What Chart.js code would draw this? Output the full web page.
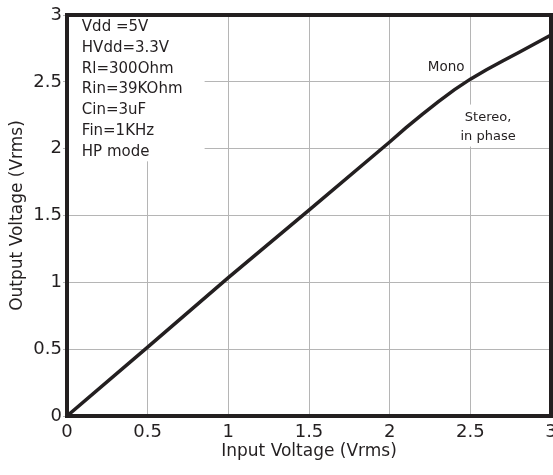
<!DOCTYPE html>
<html>
<head>
    <meta charset='utf-8'>
    <title>Output vs Input Voltage</title>
    <script src='https://cdn.jsdelivr.net/npm/chart.js@4.4.0/dist/chart.umd.min.js'></script>
    <style>
        body { margin: 0; background: #fff; }
        #wrap { width: 553px; height: 475px; }
    </style>
</head>
<body>
<div id="wrap"><canvas id="myChart" width="553" height="475"></canvas></div>
<script>
// values
const inputV  = [0, 0.5, 1, 1.5, 2, 2.1, 2.2, 2.3, 2.4, 2.5, 2.6, 2.7, 2.8, 2.9, 3];
const outputV = [0, 0.515, 1.035, 1.54, 2.05, 2.155, 2.255, 2.35, 2.44, 2.52, 2.59, 2.656, 2.72, 2.785, 2.85];

const xTicks = [0, 0.5, 1, 1.5, 2, 2.5, 3];
const yTicks = [0, 0.5, 1, 1.5, 2, 2.5, 3];

const conditions = ['Vdd =5V', 'HVdd=3.3V', 'Rl=300Ohm', 'Rin=39KOhm', 'Cin=3uF', 'Fin=1KHz', 'HP mode'];
const monoLabel = 'Mono';
const stereoLabel = ['Stereo,', 'in phase'];

const ink = '#231f20';
const gridGray = '#b5b5b5';
const font = 'DejaVu Sans';

// white boxes + text notes, drawn over the grid but under the curve
const notes = {
    id: 'notes',
    beforeDatasetsDraw(chart) {
        const ctx = chart.ctx;
        const x = chart.scales.x, y = chart.scales.y;
        ctx.save();
        ctx.fillStyle = '#fff';
        // condition block, upper left
        ctx.fillRect(x.getPixelForValue(0.01), y.getPixelForValue(2.99), 136, 145);
        // stereo block
        ctx.fillRect(x.getPixelForValue(2.4), y.getPixelForValue(2.33), 68, 42);

        ctx.fillStyle = ink;
        ctx.textBaseline = 'middle';
        ctx.textAlign = 'left';
        ctx.font = '15px "' + font + '"';
        const left = x.getPixelForValue(0.092);
        const top = y.getPixelForValue(2.91);
        conditions.forEach((t, i) => ctx.fillText(t, left, top + i * 20.8));

        ctx.textAlign = 'center';
        ctx.font = '13.5px "' + font + '"';
        ctx.fillText(monoLabel, x.getPixelForValue(2.35), y.getPixelForValue(2.61));
        ctx.font = '13px "' + font + '"';
        ctx.fillText(stereoLabel[0], x.getPixelForValue(2.61), y.getPixelForValue(2.23));
        ctx.fillText(stereoLabel[1], x.getPixelForValue(2.61), y.getPixelForValue(2.09));
        ctx.restore();
    }
};

// heavy frame around the plot
const frame = {
    id: 'frame',
    afterDatasetsDraw(chart) {
        const a = chart.chartArea;
        const ctx = chart.ctx;
        ctx.save();
        ctx.strokeStyle = ink;
        ctx.lineWidth = 4;
        ctx.strokeRect(a.left, a.top, a.right - a.left, a.bottom - a.top);
        ctx.restore();
    }
};

const plain = v => String(v);

const ctx = document.getElementById('myChart').getContext('2d');
const myChart = new Chart(ctx, {
    type: 'line',
    data: {
        datasets: [{
            data: inputV.map((v, i) => ({ x: v, y: outputV[i] })),
            borderColor: ink,
            borderWidth: 3.5,
            pointRadius: 0,
            fill: false,
            tension: 0
        }]
    },
    options: {
        responsive: false,
        animation: false,
        events: [],
        layout: { padding: { top: 15, right: 2, left: 0, bottom: 0 } },
        plugins: { legend: { display: false }, tooltip: { enabled: false } },
        scales: {
            x: {
                type: 'linear',
                min: 0, max: 3,
                afterBuildTicks: s => { s.ticks = xTicks.map(v => ({ value: v })); },
                afterFit: s => { s.height = 59; s.paddingLeft = 0; s.paddingRight = 0; },
                border: { display: false },
                grid: { color: gridGray, lineWidth: 1, drawTicks: false },
                ticks: { color: ink, padding: 6, maxRotation: 0, callback: plain, font: { family: font, size: 18 } },
                title: {
                    display: true, text: 'Input Voltage (Vrms)', color: ink,
                    font: { family: font, size: 17 }, padding: { top: 0, bottom: 13 }
                }
            },
            y: {
                type: 'linear',
                min: 0, max: 3,
                afterBuildTicks: s => { s.ticks = yTicks.map(v => ({ value: v })); },
                afterFit: s => { s.width = 67; s.paddingTop = 0; s.paddingBottom = 0; },
                border: { display: false },
                grid: { color: gridGray, lineWidth: 1, tickLength: 4 },
                ticks: { color: ink, padding: 1, callback: plain, font: { family: font, size: 18 } },
                title: {
                    display: true, text: 'Output Voltage (Vrms)', color: ink,
                    font: { family: font, size: 17 }, padding: { top: 7, bottom: 0 }
                }
            }
        }
    },
    plugins: [notes, frame]
});
</script>
</body>
</html>
